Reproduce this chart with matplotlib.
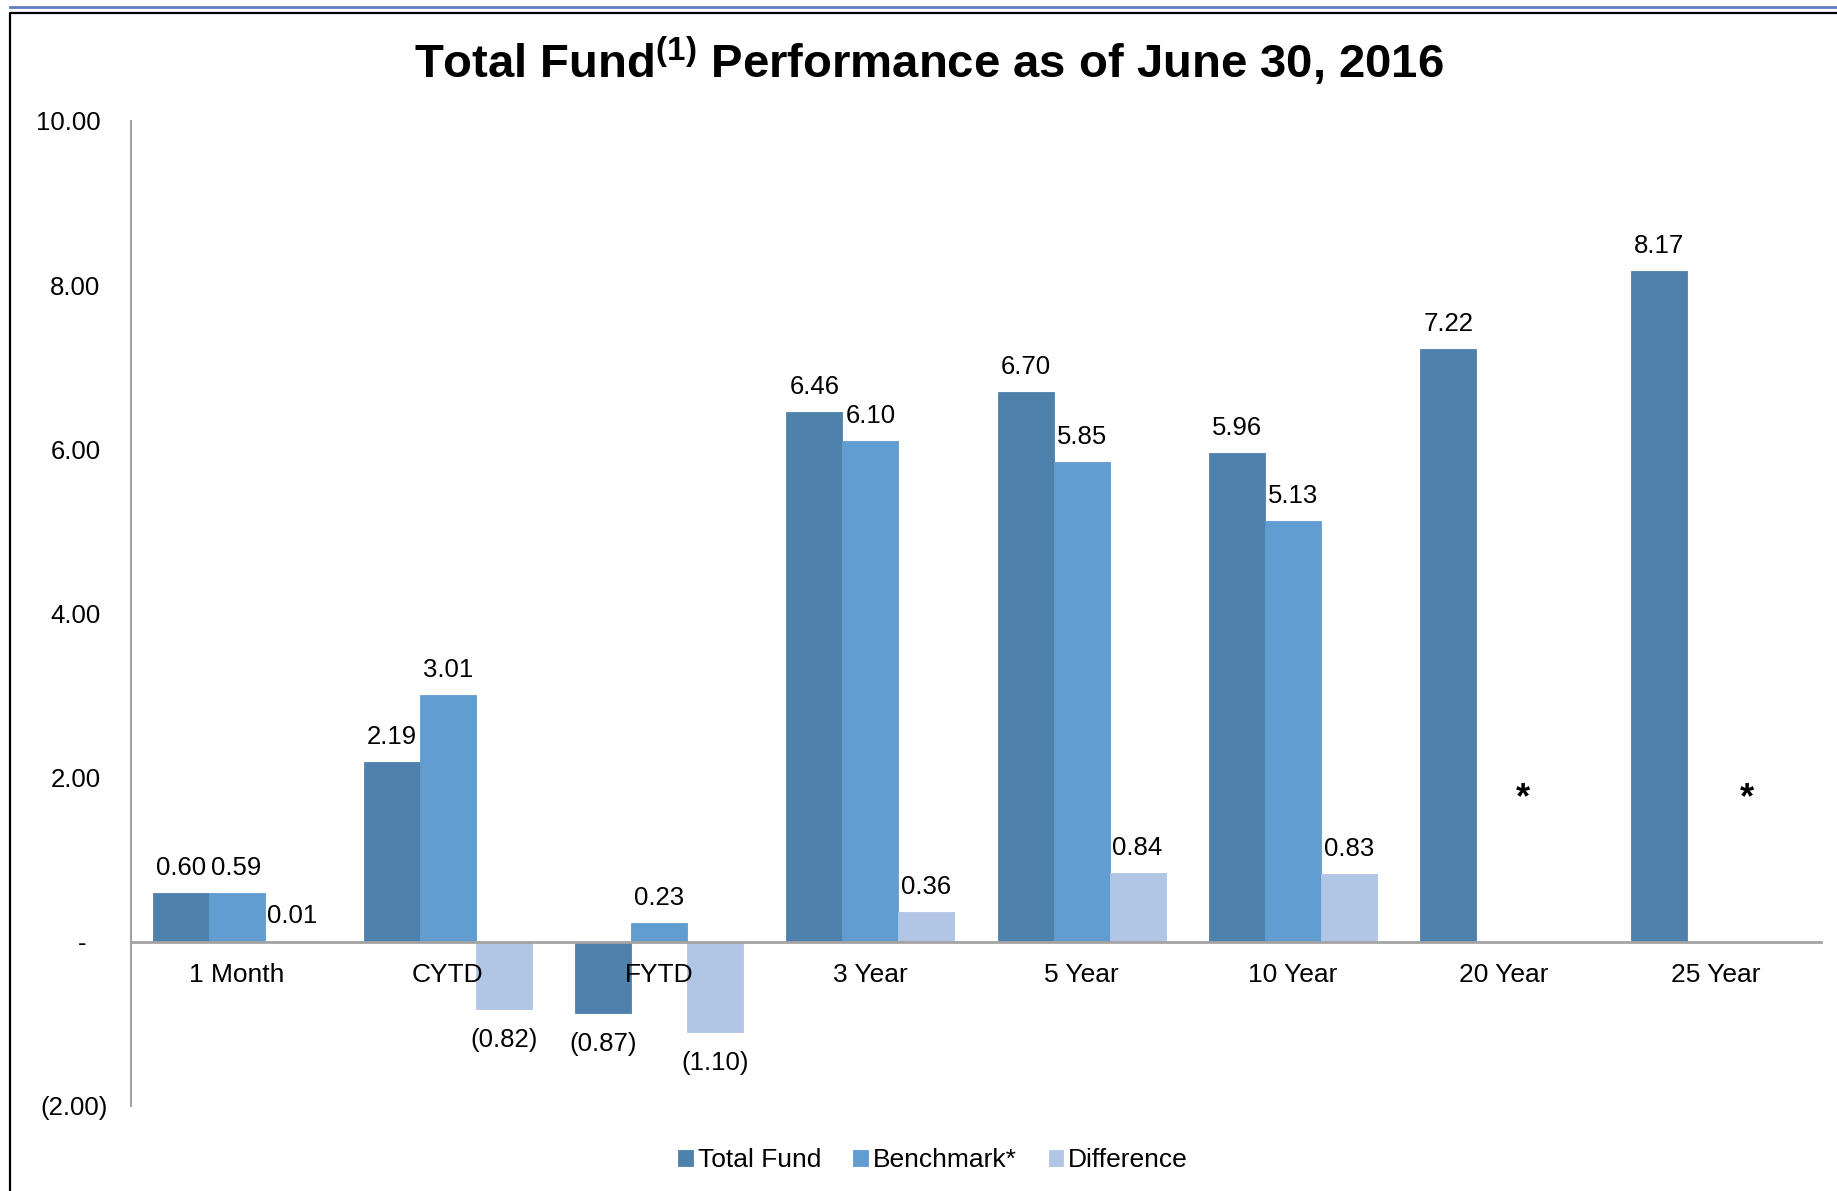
import matplotlib
matplotlib.use("Agg")
import matplotlib.pyplot as plt
from matplotlib.lines import Line2D
from matplotlib.transforms import ScaledTranslation
import numpy as np

plt.rcParams['font.family'] = ['Liberation Sans', 'DejaVu Sans']
plt.rcParams['mathtext.fontset'] = 'custom'
plt.rcParams['mathtext.rm'] = 'Liberation Sans:bold'
plt.rcParams['mathtext.it'] = 'Liberation Sans:bold'
plt.rcParams['mathtext.bf'] = 'Liberation Sans:bold'

# ---- data ----
categories = ["1 Month", "CYTD", "FYTD", "3 Year", "5 Year", "10 Year", "20 Year", "25 Year"]
total_fund = [0.60, 2.19, -0.87, 6.46, 6.70, 5.96, 7.22, 8.17]
benchmark = [0.59, 3.01, 0.23, 6.10, 5.85, 5.13, None, None]
difference = [0.01, -0.82, -1.10, 0.36, 0.84, 0.83, None, None]
series_names = ["Total Fund", "Benchmark*", "Difference"]
series_colors = ["#4f81ad", "#619dd1", "#b0c6e4"]
ytick_values = [-2, 0, 2, 4, 6, 8, 10]
ytick_labels = ["(2.00)", "-", "2.00", "4.00", "6.00", "8.00", "10.00"]
star_categories = ["20 Year", "25 Year"]
star_text = "*"
title_text = "Total Fund$^{(1)}$ Performance as of June 30, 2016"


def fmt(v):
    return "({:.2f})".format(-v) if v < 0 else "{:.2f}".format(v)


fig = plt.figure(figsize=(18.37, 11.91), dpi=100)
ax = fig.add_axes([131 / 1837, 1 - 1106 / 1191, 1690 / 1837, 985 / 1191])
ax.set_axisbelow(False)

x = np.arange(len(categories))
w = 0.265
all_series = [total_fund, benchmark, difference]
for i, (vals, name, col) in enumerate(zip(all_series, series_names, series_colors)):
    xs = [xi + (i - 1) * w for xi, v in zip(x, vals) if v is not None]
    vs = [v for v in vals if v is not None]
    ax.bar(xs, vs, width=w, color=col, edgecolor=col, linewidth=0.6, label=name, zorder=2)
    for xb, v in zip(xs, vs):
        if v >= 0:
            ax.annotate(fmt(v), (xb, v), xytext=(0, 13), textcoords='offset points',
                        ha='center', va='baseline', fontsize=18.5, color='black', zorder=4)
        else:
            ax.annotate(fmt(v), (xb, v), xytext=(0, -13.5), textcoords='offset points',
                        ha='center', va='top', fontsize=18.5, color='black', zorder=4)

# asterisks for missing benchmark data (placed just right of the empty benchmark slot)
star_shift = [0.09, 0.15]
for cat, dxs in zip(star_categories, star_shift):
    ci = categories.index(cat)
    ax.text(ci + dxs, 1.74, star_text, ha='center', va='center', fontsize=26,
            fontweight='bold', color='black')

ax.set_xlim(-0.5, len(categories) - 0.5)
ax.set_ylim(-2, 10)
ax.set_yticks(ytick_values)
ax.set_yticklabels(ytick_labels)
ax.set_xticks(x)
ax.set_xticklabels(categories)

for s in ['top', 'right']:
    ax.spines[s].set_visible(False)
ax.spines['bottom'].set_position(('data', 0))
ax.spines['bottom'].set_color('#a3a3a3')
ax.spines['bottom'].set_linewidth(2)
ax.spines['left'].set_color('#a3a3a3')
ax.spines['left'].set_linewidth(1.5)

ax.tick_params(axis='x', length=0, pad=15, labelsize=19)
ax.tick_params(axis='y', length=0, pad=22, labelsize=18.5)

# fine-tune y tick label offsets (Excel style number format padding)
for lab in ax.get_yticklabels():
    t = lab.get_text()
    if t.startswith("("):
        dx = 5 / 72
    elif t == "-":
        dx = -10 / 72
    else:
        dx = 0
    lab.set_transform(lab.get_transform() + ScaledTranslation(dx, 0, fig.dpi_scale_trans))

ax.patch.set_visible(False)

# title
fig.text(0.5057, 1 - 78 / 1191, title_text, ha='center', va='baseline',
         fontsize=34, fontweight='bold', color='black')

# legend
fig.legend(loc='center', bbox_to_anchor=(0.508, 0.026), ncol=3, frameon=False,
           fontsize=19, handlelength=0.55, handleheight=0.55, handletextpad=0.2,
           columnspacing=1.2)

# frame decorations
fig.add_artist(Line2D([10 / 1837, 1], [1 - 6.5 / 1191, 1 - 6.5 / 1191], transform=fig.transFigure,
                      color='#5f7fbf', linewidth=2))
fig.add_artist(Line2D([9.5 / 1837, 9.5 / 1837, 1], [0, 1 - 13 / 1191, 1 - 13 / 1191],
                      transform=fig.transFigure, color='black', linewidth=1.6))

fig.savefig("out.png", dpi=100, facecolor='white')
